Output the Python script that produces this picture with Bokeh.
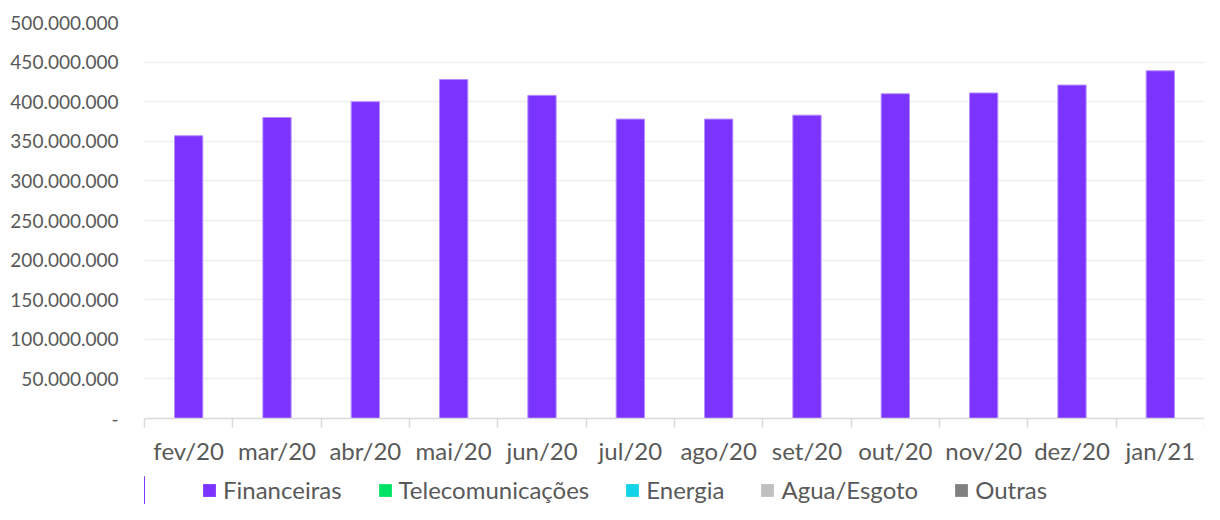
from bokeh.plotting import figure
from bokeh.layouts import column
from bokeh.models import (Range1d, LinearAxis, FixedTicker, ColumnDataSource,
                          CustomJSTickFormatter, Legend, LegendItem)
from bokeh.embed import file_html
from bokeh.resources import INLINE

months = ["fev/20", "mar/20", "abr/20", "mai/20", "jun/20", "jul/20",
          "ago/20", "set/20", "out/20", "nov/20", "dez/20", "jan/21"]
financeiras = [357e6, 380e6, 400e6, 428e6, 408e6, 378e6, 378e6, 383e6, 410e6, 411e6, 421e6, 439e6]
telecom = [0] * 12
energia = [0] * 12
agua = [0] * 12
outras = [0] * 12
series = ["Financeiras", "Telecomunicações", "Energia", "Agua/Esgoto", "Outras"]
colors = ["#7B33FF", "#00E266", "#12D3E8", "#C0C0C0", "#808080"]

FONT = "Lato"
TXT = "#595959"

centers = [i + 0.5 for i in range(len(months))]
boundaries = list(range(len(months) + 1))

data = {"x": centers, "Financeiras": financeiras, "Telecomunicações": telecom,
        "Energia": energia, "Agua/Esgoto": agua, "Outras": outras}
source = ColumnDataSource(data)
line_colors = ["#B58CFF", None, None, None, None]

W = 1204
p = figure(width=W, height=476, x_range=Range1d(0, len(months)),
           y_range=Range1d(0, 500e6), output_backend="svg", toolbar_location=None,
           x_axis_location=None, y_axis_location="left",
           min_border_left=144, min_border_right=0, min_border_top=22, min_border_bottom=58)
p.outline_line_color = None
p.background_fill_color = "white"
p.border_fill_color = "white"

p.vbar_stack(series, x="x", width=0.32, source=source,
             fill_color=colors, line_color=line_colors, line_width=1)

# y axis
ya = p.yaxis[0]
ya.ticker = FixedTicker(ticks=[i * 50e6 for i in range(11)])
ya.formatter = CustomJSTickFormatter(code="""
if (tick == 0) { return '-'; }
var s = Math.round(tick).toString();
return s.replace(/\\B(?=(\\d{3})+(?!\\d))/g, '.');
""")
ya.axis_line_color = None
ya.major_tick_line_color = None
ya.minor_tick_line_color = None
ya.major_label_standoff = 20
ya.major_label_text_font = FONT
ya.major_label_text_font_size = "19px"
ya.major_label_text_color = TXT

p.ygrid.ticker = FixedTicker(ticks=[i * 50e6 for i in range(1, 11)])
p.ygrid.grid_line_color = "#EEEEEE"
p.ygrid.grid_line_width = 1.5
p.xgrid.grid_line_color = None

# boundary tick axis (ticks between months, no labels)
ta = LinearAxis(ticker=FixedTicker(ticks=boundaries),
                formatter=CustomJSTickFormatter(code="return '';"))
ta.axis_line_color = "#D9D9D9"
ta.axis_line_width = 1.5
ta.major_tick_line_color = "#D9D9D9"
ta.major_tick_line_width = 1.5
ta.major_tick_out = 9
ta.major_tick_in = 0
ta.minor_tick_line_color = None
ta.major_label_text_font_size = "1px"
ta.major_label_standoff = 0
p.add_layout(ta, "below")

# month label axis
la = LinearAxis(ticker=FixedTicker(ticks=centers),
                major_label_overrides={c: m for c, m in zip(centers, months)})
la.axis_line_color = None
la.major_tick_line_color = None
la.minor_tick_line_color = None
la.major_label_standoff = 2
la.major_label_text_font = FONT
la.major_label_text_font_size = "24px"
la.major_label_text_color = TXT
p.add_layout(la, "below")

# legend strip: own small figure whose view range lies far from the bars,
# so only the legend glyphs are drawn
LH = 28
lf = figure(width=W, height=LH, x_range=Range1d(1000, 1001), y_range=Range1d(0, 1),
            output_backend="svg", toolbar_location=None,
            x_axis_location=None, y_axis_location=None, min_border=0)
lf.outline_line_color = None
lf.xgrid.grid_line_color = None
lf.ygrid.grid_line_color = None
lrs = lf.vbar_stack(series, x="x", width=0.32, source=source,
                    fill_color=colors, line_color=None)
items = [LegendItem(label=s, renderers=[r]) for s, r in zip(series, lrs)]
legend = Legend(items=items, orientation="horizontal", location=(57, 0))
legend.label_text_font = FONT
legend.label_text_font_size = "24px"
legend.label_text_color = TXT
legend.label_height = 24
legend.glyph_width = 16
legend.glyph_height = 16
legend.label_standoff = 6
legend.spacing = 35
legend.padding = 0
legend.margin = 0
legend.border_line_color = None
legend.background_fill_alpha = 0
lf.add_layout(legend, "center")

open("out.html", "w").write(file_html(column(p, lf, spacing=0), INLINE))
